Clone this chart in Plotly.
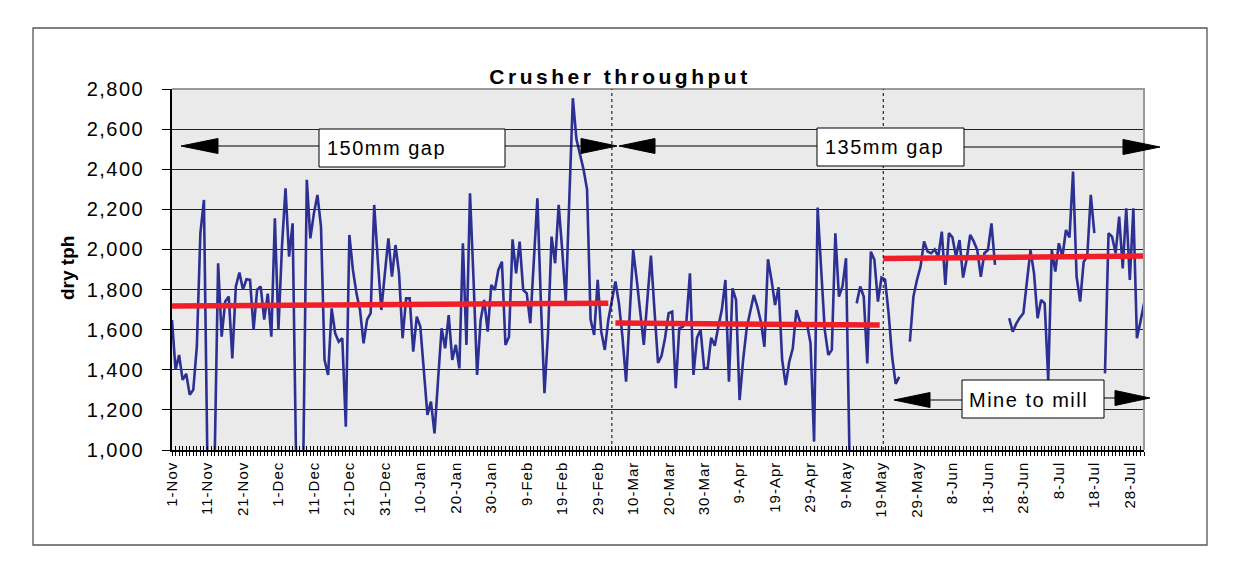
import plotly.graph_objects as go
import pandas as pd

# ---------------- data ----------------
start_date = "2003-11-01"
n_days = 275
tph = [
    1648, 1400, 1474, 1350, 1380, 1275, 1300, 1515, 2080, 2247,
    920, 960, 920, 1931, 1565, 1740, 1765, 1457, 1815, 1885,
    1800, 1851, 1848, 1600, 1800, 1815, 1650, 1780, 1565, 2155,
    1600, 2014, 2305, 1964, 2130, 920, 900, 930, 2347, 2055,
    2180, 2272, 2114, 1449, 1374, 1706, 1582, 1540, 1557, 1116,
    2072, 1898, 1781, 1698, 1532, 1650, 1682, 2222, 1950, 1698,
    1880, 2055, 1864, 2022, 1881, 1557, 1756, 1756, 1490, 1665,
    1615, 1382, 1175, 1241, 1083, 1349, 1607, 1507, 1673, 1449,
    1524, 1407, 2031, 1524, 2280, 1850, 1374, 1648, 1748, 1590,
    1823, 1798, 1898, 1939, 1524, 1565, 2050, 1881, 2039, 1798,
    1781, 1632, 1915, 2255, 1731, 1283, 1582, 2064, 1931, 2222,
    1997, 1740, 2250, 2754, 2550, 2480, 2400, 2300, 1650, 1574,
    1848, 1590, 1499, 1650, 1750, 1840, 1730, 1560, 1341, 1650,
    1997, 1850, 1682, 1524, 1750, 1969, 1700, 1434, 1470, 1560,
    1682, 1690, 1308, 1607, 1615, 1640, 1881, 1374, 1560, 1600,
    1407, 1407, 1560, 1520, 1615, 1700, 1848, 1341, 1806, 1748,
    1249, 1450, 1607, 1698, 1773, 1715, 1640, 1515, 1951, 1848,
    1723, 1811, 1449, 1324, 1440, 1507, 1698, 1640, 1623, 1630,
    1532, 1042, 2209, 1900, 1600, 1474, 1499, 2081, 1765, 1815,
    1956, 950, None, 1731, 1815, 1765, 1432, 1989, 1948, 1740,
    1860, 1850, 1682, 1465, 1330, 1365, None, None, 1540, 1765,
    1848, 1914, 2040, 1989, 1981, 2000, 1964, 2089, 1823, 2081,
    2060, 1964, 2047, 1860, 1950, 2072, 2040, 1997, 1864, 1981,
    1997, 2130, 1923, None, None, None, 1657, 1590, 1630, 1660,
    1682, 1850, 1997, 1881, 1657, 1748, 1731, 1349, 1997, 1890,
    2031, 1964, 2097, 2060, 2388, 1864, 1740, 1939, 1964, 2272,
    2081, None, None, 1382, 2081, 2064, 1981, 2164, 1906, 2205,
    1848, 2205, 1557, 1640, 1731,
]
dates = pd.date_range(start_date, periods=n_days, freq="D")

# average (trend) lines for the three periods
avg_x = [["2003-11-01", "2004-03-03"],
         ["2004-03-05", "2004-05-18 12:00"],
         ["2004-05-19 12:00", "2004-08-01"]]
avg_y = [[1718, 1732], [1633, 1623], [1955, 1967]]

# period separators
sep_dates = ["2004-03-04", "2004-05-19 12:00"]

x_tick_dates = pd.date_range(start_date, periods=28, freq="10D")
x_tick_labels = [f"{d.day}-{d.strftime('%b')}" for d in x_tick_dates]
y_ticks = [1000, 1200, 1400, 1600, 1800, 2000, 2200, 2400, 2600, 2800]
y_tick_labels = [f"{v:,}" for v in y_ticks]
title_text = "Crusher throughput"
y_title = "dry tph"
label_150 = "150mm gap"
label_135 = "135mm gap"
label_m2m = "Mine to mill"

# ---------------- layout geometry (pixels) ----------------
W, H = 1241, 579
PL, PR, PT, PB = 172, 1144, 89, 450


def px(x):
    return (x - PL) / (PR - PL)


def py(y):
    return (PB - y) / (PB - PT)


def spaced(t, s):
    return f'<span style="letter-spacing:{s}px">{t}</span>'


FONT = "Liberation Sans, Arial, sans-serif"
BLUE = "rgb(44,48,146)"
RED = "rgb(240,30,40)"

fig = go.Figure()

fig.add_trace(go.Scatter(
    x=dates, y=tph, mode="lines",
    line=dict(color=BLUE, width=2.6),
    connectgaps=False, showlegend=False, hoverinfo="skip",
))

for xs, ys in zip(avg_x, avg_y):
    fig.add_trace(go.Scatter(
        x=xs, y=ys, mode="lines", xaxis="x2",
        line=dict(color=RED, width=5.5),
        showlegend=False, hoverinfo="skip",
    ))

shapes = []
# outer chart frame
shapes.append(dict(type="rect", xref="paper", yref="paper",
                   x0=px(33), x1=px(1207), y0=py(28), y1=py(545),
                   line=dict(color="#555555", width=1.3), layer="below"))
# top and right plot border (grey)
shapes.append(dict(type="path", xref="paper", yref="paper",
                   path=f"M {px(PL)},{py(PT)} L {px(PR)},{py(PT)} L {px(PR)},{py(PB)}",
                   line=dict(color="#9a9a9a", width=2), layer="above"))
# dotted separators
for d in sep_dates:
    shapes.append(dict(type="line", xref="x", yref="paper", x0=d, x1=d, y0=0, y1=1,
                       line=dict(color="black", width=1, dash="dot"), layer="above"))


def box(x0, x1, y0, y1):
    shapes.append(dict(type="rect", xref="paper", yref="paper",
                       x0=px(x0), x1=px(x1), y0=py(y0), y1=py(y1),
                       line=dict(color="black", width=1), fillcolor="white", layer="above"))


def hline(x0, x1, y):
    shapes.append(dict(type="line", xref="paper", yref="paper",
                       x0=px(x0), x1=px(x1), y0=py(y), y1=py(y),
                       line=dict(color="black", width=1), layer="above"))


def tri(tip, base, y, half=7.5):
    shapes.append(dict(type="path", xref="paper", yref="paper",
                       path=f"M {px(tip)},{py(y)} L {px(base)},{py(y - half)} L {px(base)},{py(y + half)} Z",
                       line=dict(color="black", width=1), fillcolor="black", layer="above"))


# 150mm gap
box(319, 505, 129, 167)
hline(218, 319, 146)
tri(181, 218, 146)
hline(505, 581, 146)
tri(617, 581, 146)
# 135mm gap
box(817, 964, 128, 166)
hline(655, 817, 146)
tri(619, 655, 146)
hline(964, 1123, 147)
tri(1160, 1123, 147)
# Mine to mill
box(962, 1104, 380, 418)
hline(930, 962, 400)
tri(894, 930, 400)
hline(1104, 1115, 398)
tri(1150, 1115, 398)

annotations = []
for txt, xl, yc in [(label_150, 325, 148), (label_135, 823, 147), (label_m2m, 967, 400)]:
    annotations.append(dict(
        text=spaced(txt, 1.5),
        xref="paper", yref="paper", x=px(xl), y=py(yc),
        xanchor="left", yanchor="middle", showarrow=False,
        font=dict(family=FONT, size=20, color="black")))

# y-axis title
annotations.append(dict(
    text=f"<b>{y_title}</b>", textangle=-90,
    xref="paper", yref="paper", x=px(67), y=py(268),
    xanchor="center", yanchor="middle", showarrow=False,
    font=dict(family=FONT, size=19, color="black")))

fig.update_layout(
    width=W, height=H,
    margin=dict(l=PL, r=W - PR, t=PT, b=H - PB),
    paper_bgcolor="white",
    plot_bgcolor="rgb(234,234,234)",
    showlegend=False,
    title=dict(
        text=spaced(f"<b>{title_text}</b>", 3.5),
        xref="container", yref="container",
        x=620 / W, y=1 - 77 / H, xanchor="center", yanchor="middle",
        font=dict(family=FONT, size=21, color="black")),
    xaxis=dict(
        type="date",
        range=[dates[0], dates[-1]],
        tickvals=list(x_tick_dates),
        ticktext=[spaced(t, 1) for t in x_tick_labels],
        tickangle=-90,
        ticks="outside", ticklen=4, tickcolor="black",
        minor=dict(dtick=86400000, tick0=start_date, ticks="outside",
                   ticklen=4, tickcolor="black", showgrid=False),
        showgrid=False, zeroline=False,
        showline=True, linecolor="black", linewidth=1.5,
        tickfont=dict(family=FONT, size=15, color="black"),
    ),
    xaxis2=dict(
        overlaying="x", matches="x", anchor="y", type="date",
        tick0=start_date, dtick=86400000,
        ticks="inside", ticklen=4, tickcolor="black",
        showticklabels=False, showgrid=False, zeroline=False, showline=False,
    ),
    yaxis=dict(
        range=[1000, 2800], tickvals=y_ticks,
        ticktext=[spaced(t, 1.5) for t in y_tick_labels],
        ticks="outside", ticklen=8, tickcolor="black",
        showgrid=True, gridcolor="#222222", gridwidth=1,
        zeroline=False, showline=True, linecolor="black", linewidth=1.5,
        tickfont=dict(family=FONT, size=20, color="black"),
        ticklabelstandoff=14,
    ),
    shapes=shapes,
    annotations=annotations,
)

fig.write_html("out.html")
